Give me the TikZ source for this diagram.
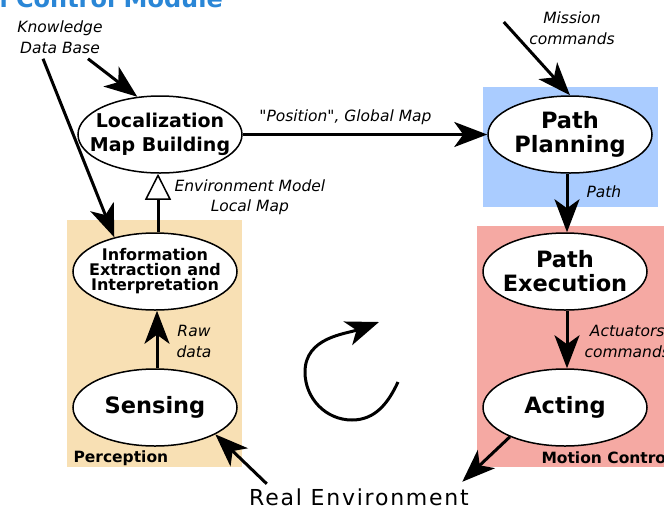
\documentclass[tikz,border=0pt]{standalone}
\usepackage{fontspec}
\setmainfont{DejaVu Sans}
\usepackage{tikz}
\usetikzlibrary{arrows.meta,shapes.geometric}
\definecolor{titleblue}{HTML}{2A86D6}
\definecolor{perccol}{HTML}{F8E0B4}
\definecolor{plancol}{HTML}{AACCFF}
\definecolor{motcol}{HTML}{F5A9A3}

\begin{document}
\begin{tikzpicture}[x=1pt,y=-1pt,->,>={Stealth[length=33pt,width=25pt,inset=9pt]},
                    line width=3pt,node distance=410pt]
  \tikzstyle{blob}=[ellipse,draw,fill=white,line width=1.5pt,minimum width=164pt,
                    minimum height=77pt,inner xsep=-14pt,inner ysep=0pt,align=center,
                    font=\bfseries\fontsize{22.5}{24}\selectfont]
  \tikzstyle{lbl}=[inner sep=0pt,align=center,font=\itshape\fontsize{15.5}{20.5}\selectfont]
  \tikzstyle{grp}=[inner sep=0pt,anchor=base west,font=\bfseries\fontsize{15.5}{18}\selectfont]

  \useasboundingbox (0,0) rectangle (664,507);

  % group backgrounds
  \fill[perccol,-] (67,220) rectangle (242,467);
  \fill[plancol,-] (483,87) rectangle (658,207);
  \fill[motcol,-] (477,226) rectangle (680,467);

  \node[blob,font=\bfseries\fontsize{19}{24}\selectfont] (loc) at (160,134.5) {Localization\\Map Building};
  \node[blob] (pp) [right of=loc] {Path\\Planning};
  \node[blob,font=\bfseries\fontsize{16}{15}\selectfont] (info) at (155,271.5) {Information\\Extraction and\\Interpretation};
  \node[blob,node distance=136pt] (sens) [below of=info] {Sensing};
  \node[blob] (pe) [right of=info] {Path\\Execution};
  \node[blob] (act) [right of=sens] {Acting};

  \node[lbl] (kdb) at (60,37) {Knowledge\\Data Base};
  \node[lbl] (mis) at (572,28) {Mission\\commands};
  \node[inner sep=0pt,anchor=base,font=\fontsize{22}{26}\selectfont\addfontfeature{LetterSpace=8}] (env) at (359,505) {Real Environment};
  \node[inner sep=0pt,anchor=base west,text=titleblue,font=\bfseries\fontsize{24}{28}\selectfont] (ttl) at (-2,7) {l Control Module};
  \node[grp] (perc) at (72,462) {Perception};
  \node[grp] (mot) at (540,463) {Motion Control};

  \draw ([shift={(28pt,-4pt)}]kdb.south) -- (loc.121);
  \draw ([shift={(-17pt,-4pt)}]kdb.south) -- (info.140);
  \draw[-{Triangle[length=26pt,width=26pt,fill=white,line width=1.5pt]}] ([xshift=3pt]info.north) -- ([xshift=-2pt]loc.south)
    node[lbl,pos=0.6,right=15pt] {Environment Model\\Local Map};
  \draw (loc.east) -- (pp.west) node[lbl,pos=0.42,above=8pt] {\textquotedbl Position\textquotedbl, Global Map};
  \draw ([shift={(-24pt,6pt)}]mis.west) -- (pp.north);
  \draw ([xshift=-3pt]pp.south) -- ([xshift=2pt]pe.north) node[lbl,pos=0.3,right=18pt] {Path};
  \draw ([xshift=2pt]pe.south) -- ([xshift=2pt]act.north) node[lbl,pos=0.53,right=16pt] {Actuators\\commands};
  \draw ([xshift=2pt]sens.north) -- ([xshift=2pt]info.south) node[lbl,pos=0.47,right=18pt] {Raw\\data};
  \draw ([shift={(19pt,3pt)}]env.north west) -- (sens.-24);
  \draw (act.208) -- ([shift={(-8pt,5pt)}]env.north east);

  % loop arrow
  \draw (398,382) to[out=-115,in=0] (352,420) to[out=180,in=-90] (305,372) to[out=90,in=200] (379,322);
\end{tikzpicture}
\end{document}
